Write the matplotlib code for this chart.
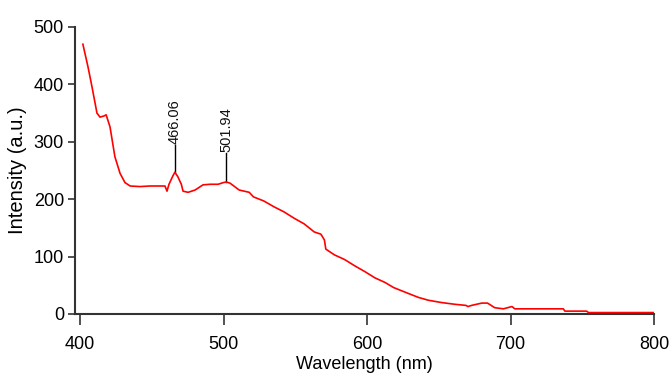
import matplotlib
matplotlib.use("Agg")
import matplotlib.pyplot as plt

wavelength = [402.0, 405.6, 408.4, 411.8, 413.9, 416.7, 418.2, 420.9, 424.3, 427.9, 431.3, 434.9,
              441.8, 448.8, 455.7, 459.2, 460.6, 462.0, 464.6, 466.1, 468.2, 470.6, 471.8, 475.3,
              480.2, 485.7, 490.7, 496.2, 500.0, 501.9, 504.5, 510.9, 517.9, 520.9, 528.0, 535.0,
              542.1, 549.1, 556.2, 563.2, 567.9, 570.3, 571.3, 577.3, 584.3, 591.4, 598.4, 605.5,
              612.5, 618.6, 623.6, 628.6, 635.7, 642.7, 651.8, 660.9, 668.9, 670.4, 672.9, 680.0,
              684.0, 689.0, 695.0, 701.0, 703.0, 736.8, 737.9, 753.0, 754.4, 800.0]
intensity = [470, 430, 395, 350, 343, 345, 347, 326, 274, 245, 229, 223,
             222, 223, 223, 223, 214, 226, 240, 247, 239, 226, 214, 212,
             216, 225, 226, 226, 229, 230, 228, 216, 212, 204, 197, 187,
             178, 167, 157, 143, 139, 129, 113, 103, 95, 84, 74, 63,
             55, 46, 41, 36, 29, 24, 20, 17, 15, 13, 15, 19,
             19, 11, 9, 13, 9, 9, 5, 5, 2.5, 2.5]

peak_x = [466.06, 501.94]
peak_labels = ["466.06", "501.94"]
peak_base = [247, 230]
peak_top = [294.5, 280.5]

fam = ['Liberation Sans', 'DejaVu Sans']

fig = plt.figure(figsize=(6.69, 3.83), dpi=100)
ax = fig.add_axes([75/669, (383-314)/383, (654-75)/669, 287/383])
ax.plot(wavelength, intensity, color='#ff0000', lw=1.2, zorder=3)

for x, lab, b, t in zip(peak_x, peak_labels, peak_base, peak_top):
    ax.plot([x, x], [b, t], color='black', lw=1.0, zorder=2)
    ax.text(x, t + 1, lab, rotation=90, ha='center', va='bottom',
            fontsize=10.5, family=fam, color='#111111')

ax.set_xlim(396.5, 800)
ax.set_ylim(0, 500)
ax.set_xticks([400, 500, 600, 700, 800])
ax.set_yticks([0, 100, 200, 300, 400, 500])
for s in ['top', 'right']:
    ax.spines[s].set_visible(False)
for s in ['left', 'bottom']:
    ax.spines[s].set_linewidth(1.5)
    ax.spines[s].set_color('#333333')
ax.tick_params(axis='x', direction='out', length=8, width=1.2, color='#333333', labelsize=13, pad=8)
ax.tick_params(axis='y', direction='out', length=5, width=1.2, color='#333333', labelsize=13, pad=3)
for lbl in ax.get_xticklabels() + ax.get_yticklabels():
    lbl.set_family(fam)
ax.set_xlabel('Wavelength (nm)', fontsize=13, family=fam, labelpad=2)
ax.set_ylabel('Intensity (a.u.)', fontsize=14.5, family=fam, labelpad=5)

fig.savefig('out.png', dpi=100)
